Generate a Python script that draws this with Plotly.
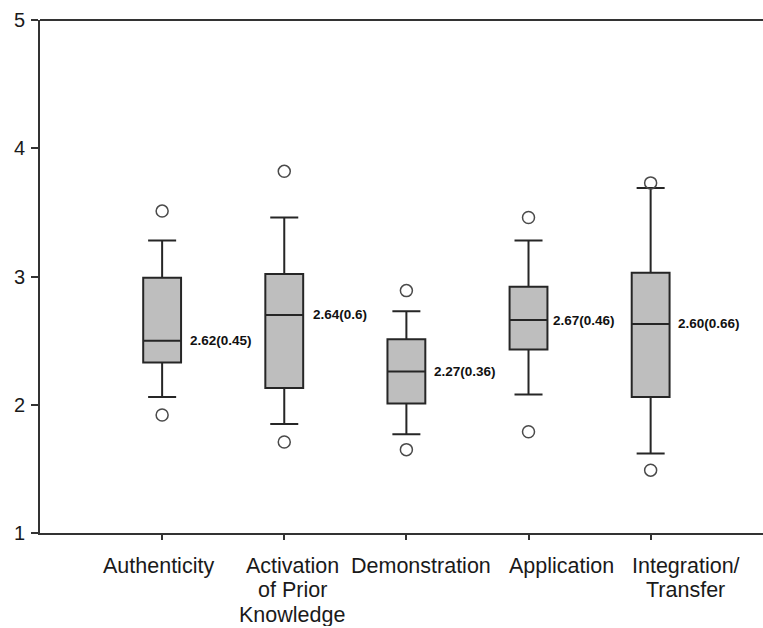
import plotly.graph_objects as go

# ---- data ----
categories = ["Authenticity", "Activation of Prior Knowledge", "Demonstration", "Application", "Integration/Transfer"]
label_lines = [["Authenticity"], ["Activation", "of Prior", "Knowledge"], ["Demonstration"], ["Application"], ["Integration/", "Transfer"]]
lower_whisker = [2.06, 1.85, 1.77, 2.08, 1.62]
q1_values = [2.33, 2.13, 2.01, 2.43, 2.06]
median_values = [2.50, 2.70, 2.26, 2.66, 2.63]
q3_values = [2.99, 3.02, 2.51, 2.92, 3.03]
upper_whisker = [3.28, 3.46, 2.73, 3.28, 3.69]
outliers_low = [1.92, 1.71, 1.65, 1.79, 1.49]
outliers_high = [3.51, 3.82, 2.89, 3.46, 3.73]
stat_labels = ["2.62(0.45)", "2.64(0.6)", "2.27(0.36)", "2.67(0.46)", "2.60(0.66)"]
y_ticks = [1, 2, 3, 4, 5]

# ---- styling / placement (not data) ----
FONT = "Liberation Sans, Arial, Helvetica, sans-serif"
BOX_W = 0.31
label_xshift = [-4, 8, 15, 33, 35]   # category labels are nudged sideways in the original
stat_xshift = [7, 8, 7, 4, 6]
x_pos = list(range(len(categories)))

fig = go.Figure()
for i, name in enumerate(categories):
    fig.add_trace(go.Box(
        x=[x_pos[i]], q1=[q1_values[i]], median=[median_values[i]], q3=[q3_values[i]],
        lowerfence=[lower_whisker[i]], upperfence=[upper_whisker[i]],
        name=name, width=BOX_W, whiskerwidth=0.74,
        fillcolor="#bebebe", line=dict(color="#262626", width=2),
        boxpoints=False, showlegend=False, hoverinfo="skip",
    ))

fig.add_trace(go.Scatter(
    x=x_pos + x_pos, y=outliers_low + outliers_high, mode="markers",
    marker=dict(symbol="circle-open", size=12, color="#4a4a4a", line=dict(width=1.5, color="#4a4a4a")),
    showlegend=False, hoverinfo="skip",
))

annotations = []
for i in x_pos:
    annotations.append(dict(
        x=x_pos[i] + BOX_W / 2, y=median_values[i], xref="x", yref="y",
        text="<b>%s</b>" % stat_labels[i], showarrow=False,
        xanchor="left", yanchor="middle", xshift=stat_xshift[i],
        font=dict(family=FONT, size=13.5, color="#111111"),
    ))
    for j, line in enumerate(label_lines[i]):
        annotations.append(dict(
            x=x_pos[i], y=1, xref="x", yref="y", text=line, showarrow=False,
            xanchor="center", yanchor="middle",
            xshift=label_xshift[i], yshift=-32.5 - 24.7 * j,
            font=dict(family=FONT, size=21.5, color="#1a1a1a"),
        ))

fig.update_layout(
    width=763, height=626,
    margin=dict(l=40, r=0, t=20, b=92.5),
    paper_bgcolor="white", plot_bgcolor="white",
    showlegend=False,
    annotations=annotations,
    shapes=[dict(type="line", xref="paper", yref="paper", x0=0, x1=1.02, y0=1, y1=1,
                 line=dict(color="#333333", width=2), layer="above")],
    xaxis=dict(
        range=[-1, 4.92], tickvals=x_pos, ticktext=[""] * len(x_pos),
        showticklabels=False, ticks="outside", ticklen=5, tickwidth=1.5, tickcolor="#333333",
        showline=True, linecolor="#333333", linewidth=2, mirror=False,
        showgrid=False, zeroline=False,
    ),
    yaxis=dict(
        range=[1, 5], tickvals=y_ticks, ticktext=[str(t) for t in y_ticks],
        ticks="outside", ticklen=7, tickwidth=1.5, tickcolor="#333333",
        ticklabelstandoff=2,
        tickfont=dict(family=FONT, size=20, color="#1a1a1a"),
        showline=True, linecolor="#333333", linewidth=2,
        showgrid=False, zeroline=False,
    ),
)

fig.write_html(
    "out.html",
    config={"displayModeBar": False},
    post_script=(
        "var s=document.createElement('style');"
        "s.textContent='html,body{margin:0;padding:0;overflow:hidden;}"
        "::-webkit-scrollbar{display:none;width:0;height:0;}';"
        "document.head.appendChild(s);"
    ),
)
